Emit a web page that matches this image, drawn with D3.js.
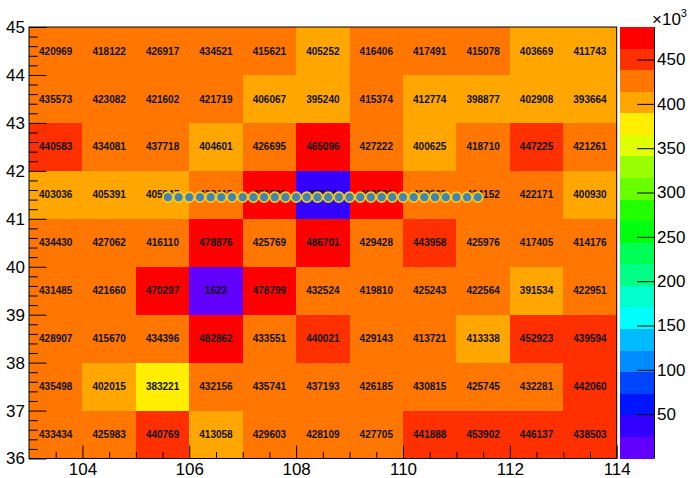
<!DOCTYPE html>
<html>
<head>
<meta charset="utf-8">
<script src="https://cdn.jsdelivr.net/npm/d3@7/dist/d3.min.js"></script>
<style>
  body { margin: 0; background: #fff; }
  svg { display: block; }
  text { font-family: "Liberation Sans", Arial, Helvetica, sans-serif; }
</style>
</head>
<body>
<svg id="chart" width="690" height="478"></svg>
<script>
// Bin edges of the 2D histogram
const xEdges = [103, 104, 105, 106, 107, 108, 109, 110, 111, 112, 113, 114];
const yEdges = [36, 37, 38, 39, 40, 41, 42, 43, 44, 45];

// Bin contents, one array per y bin (lowest first), ordered along x
const row36 = [433434, 425983, 440769, 413058, 429603, 428109, 427705, 441888, 453902, 446137, 438503];
const row37 = [435498, 402015, 383221, 432156, 435741, 437193, 426185, 430815, 425745, 432281, 442060];
const row38 = [428907, 415670, 434396, 482862, 433551, 440021, 429143, 413721, 413338, 452923, 439594];
const row39 = [431485, 421660, 470297, 1623, 478799, 432524, 419810, 425243, 422564, 391534, 422951];
const row40 = [434430, 427062, 416110, 478876, 425769, 486701, 429428, 443958, 425976, 417405, 414176];
const row41 = [403036, 405391, 405947, 428415, 471530, 37204, 469832, 419362, 424152, 422171, 400930];
const row42 = [440583, 434081, 437718, 404601, 426695, 465096, 427222, 400625, 418710, 447225, 421261];
const row43 = [435573, 423082, 421602, 421719, 406067, 395240, 415374, 412774, 398877, 402908, 393664];
const row44 = [420969, 418122, 426917, 434521, 415621, 405252, 416406, 417491, 415078, 403669, 411743];
const rows = [row36, row37, row38, row39, row40, row41, row42, row43, row44];

// Scan positions overlaid on the map
const scanX = [105.6, 105.8, 106.0, 106.2, 106.4, 106.6, 106.8, 107.0, 107.2, 107.4,
               107.6, 107.8, 108.0, 108.2, 108.4, 108.6, 108.8, 109.0, 109.2, 109.4,
               109.6, 109.8, 110.0, 110.2, 110.4, 110.6, 110.8, 111.0, 111.2, 111.4];
const scanY = [41.45, 41.45, 41.45, 41.45, 41.45, 41.45, 41.45, 41.45, 41.45, 41.45,
               41.45, 41.45, 41.45, 41.45, 41.45, 41.45, 41.45, 41.45, 41.45, 41.45,
               41.45, 41.45, 41.45, 41.45, 41.45, 41.45, 41.45, 41.45, 41.45, 41.45];

// Axis ticks
const xMajorTicks = [104, 106, 108, 110, 112, 114];
const xMinorTicks = [103.5, 104.5, 105, 105.5, 106.5, 107, 107.5, 108.5, 109, 109.5, 110.5, 111, 111.5, 112.5, 113, 113.5];
const yMajorTicks = [36, 37, 38, 39, 40, 41, 42, 43, 44, 45];
const yMinorTicks = [36.2, 36.4, 36.6, 36.8, 37.2, 37.4, 37.6, 37.8, 38.2, 38.4, 38.6, 38.8,
                     39.2, 39.4, 39.6, 39.8, 40.2, 40.4, 40.6, 40.8, 41.2, 41.4, 41.6, 41.8,
                     42.2, 42.4, 42.6, 42.8, 43.2, 43.4, 43.6, 43.8, 44.2, 44.4, 44.6, 44.8];
const zTicks = [50000, 100000, 150000, 200000, 250000, 300000, 350000, 400000, 450000];

// Violet-to-red colour levels (20 contours)
const palette = ["#6200ff", "#3300ff", "#0014ff", "#0044ff", "#008bff",
                 "#00bbff", "#00fffb", "#00ffcc", "#00ff85", "#00ff55",
                 "#00ff0e", "#22ff00", "#69ff00", "#99ff00", "#e0ff00",
                 "#ffee00", "#ffa700", "#ff7700", "#ff3000", "#ff0000"];

const svg = d3.select("#chart");
const plot = { left: 29, right: 616.7, top: 27, bottom: 458.5 };
const pal = { left: 620, right: 654 };

const x = d3.scaleLinear().domain([xEdges[0], xEdges[xEdges.length - 1]]).range([plot.left, plot.right]);
const y = d3.scaleLinear().domain([yEdges[0], yEdges[yEdges.length - 1]]).range([plot.bottom, plot.top]);

const zMin = 0;
const zMax = d3.max(rows, r => d3.max(r));
const nLevels = palette.length;
const dz = (zMax - zMin) / nLevels;
const z = d3.scaleLinear().domain([zMin, zMax]).range([plot.bottom, plot.top]);
const levelOf = v => Math.max(0, Math.min(nLevels - 1, Math.floor((v - zMin) / dz)));

// Flatten the bins
const cells = [];
rows.forEach((r, j) => r.forEach((v, i) => cells.push({
  x0: xEdges[i], x1: xEdges[i + 1], y0: yEdges[j], y1: yEdges[j + 1], v
})));

// Coloured bins
svg.append("g").selectAll("rect").data(cells).join("rect")
  .attr("x", d => x(d.x0))
  .attr("y", d => y(d.y1))
  .attr("width", d => x(d.x1) - x(d.x0))
  .attr("height", d => y(d.y0) - y(d.y1))
  .attr("fill", d => palette[levelOf(d.v)])
  .attr("shape-rendering", "crispEdges");

// Bin content labels
svg.append("g").selectAll("text").data(cells).join("text")
  .attr("x", d => x((d.x0 + d.x1) / 2))
  .attr("y", d => y((d.y0 + d.y1) / 2))
  .attr("dy", "0.36em")
  .attr("text-anchor", "middle")
  .attr("font-size", 10)
  .attr("font-weight", "bold")
  .attr("fill", "#111")
  .text(d => d.v);

// Axes
const xAxisG = svg.append("g").attr("transform", `translate(0,${plot.bottom})`);
xAxisG.call(d3.axisBottom(x).tickValues(xMajorTicks).tickSize(-13).tickPadding(4).tickFormat(d3.format("d")));
xAxisG.append("g").call(d3.axisBottom(x).tickValues(xMinorTicks).tickSize(-6.5).tickFormat(""));

const yAxisG = svg.append("g").attr("transform", `translate(${plot.left},0)`);
yAxisG.call(d3.axisLeft(y).tickValues(yMajorTicks).tickSize(-17.6).tickPadding(4).tickFormat(d3.format("d")));
yAxisG.append("g").call(d3.axisLeft(y).tickValues(yMinorTicks).tickSize(-8.8).tickFormat(""));

[xAxisG, yAxisG].forEach(g => {
  g.selectAll(".domain").remove();
  g.selectAll("line").attr("stroke", "#000");
  g.selectAll("text").attr("font-size", 17).attr("fill", "#000")
    .attr("font-family", "'Liberation Sans', Arial, sans-serif");
});

// Frame
svg.append("rect")
  .attr("x", plot.left).attr("y", plot.top)
  .attr("width", plot.right - plot.left).attr("height", plot.bottom - plot.top)
  .attr("fill", "none").attr("stroke", "#000").attr("stroke-width", 1);

// Scan points
svg.append("g").selectAll("circle").data(scanX.map((v, i) => [v, scanY[i]])).join("circle")
  .attr("cx", d => x(d[0]))
  .attr("cy", d => y(d[1]))
  .attr("r", 5)
  .attr("fill", "#4682b4")
  .attr("stroke", "#f2d21a")
  .attr("stroke-width", 1.7);

// Colour scale
const levels = d3.range(nLevels);
svg.append("g").selectAll("rect").data(levels).join("rect")
  .attr("x", pal.left)
  .attr("y", k => z(zMin + (k + 1) * dz))
  .attr("width", pal.right - pal.left)
  .attr("height", k => z(zMin + k * dz) - z(zMin + (k + 1) * dz))
  .attr("fill", k => palette[k])
  .attr("shape-rendering", "crispEdges");

const zAxisG = svg.append("g").attr("transform", `translate(${pal.right},0)`);
zAxisG.call(d3.axisRight(z).tickValues(zTicks).tickSize(-17).tickPadding(3).tickFormat(v => v / 1000));
zAxisG.select(".domain").attr("stroke", "#000").attr("d", `M0.5,${plot.top}V${plot.bottom}`);
zAxisG.selectAll("line").attr("stroke", "#000");
zAxisG.selectAll("text").attr("font-size", 17).attr("fill", "#000")
  .attr("font-family", "'Liberation Sans', Arial, sans-serif");

// Exponent of the colour scale
const expo = svg.append("text").attr("x", 652).attr("y", 25).attr("font-size", 17).attr("fill", "#000");
expo.append("tspan").text("×10");
expo.append("tspan").attr("font-size", 11).attr("dy", -8).text("3");
</script>
</body>
</html>
